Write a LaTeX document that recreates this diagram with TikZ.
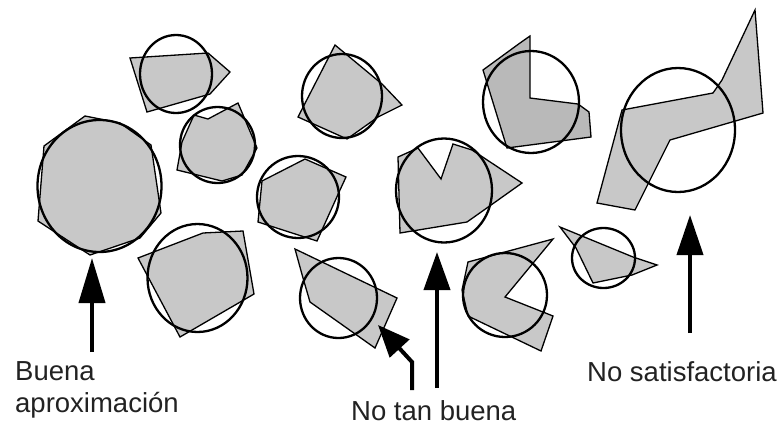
\documentclass[tikz,border=0pt]{standalone}
\usepackage{fontspec}
\setmainfont{Liberation Sans}
\usepackage{xcolor}
\usetikzlibrary{positioning, arrows.meta}
\definecolor{lightgray}{HTML}{C8C8C8}
\definecolor{midgray}{HTML}{B9B9B9}
\definecolor{labelgray}{HTML}{222222}

\tikzset{
  poly/.style={fill=lightgray, draw=black, line width=1.3pt, line join=miter},
  ring/.style={draw=black, line width=2.3pt},
  pointer/.style={line width=4pt, line join=miter, -{Triangle[length=#1, width=26pt]}},
  pointer/.default=40pt,
  caption/.style={font=\fontsize{27.5}{32}\selectfont, text=labelgray,
    align=left, inner sep=0pt}
}

\begin{document}
\begin{tikzpicture}[x=1pt, y=-1pt]
  \useasboundingbox (0,0) rectangle (783,426);

  % polygons first
  \draw[poly] (85,116) -- (120,123) -- (151,145) -- (161,213) -- (140,238)
    -- (90,255) -- (38,221) -- (44,146) -- cycle;
  \draw[poly] (130,58) -- (208,53) -- (230,72) -- (210,94) -- (147,112) -- cycle;
  \draw[poly] (238,103) -- (208,119) -- (194,115) -- (182,142) -- (177,170)
    -- (222,181) -- (242,175) -- (257,148) -- cycle;
  \draw[poly] (258,222) -- (262,181) -- (305,159) -- (346,177) -- (340,190)
    -- (317,241) -- cycle;
  \draw[poly] (335,45) -- (382,84) -- (402,105) -- (378,117) -- (347,139)
    -- (298,117) -- cycle;
  \draw[poly] (398,157) -- (418,148) -- (441,179) -- (453,144) -- (472,150)
    -- (522,183) -- (484,210) -- (467,222) -- (400,233) -- cycle;
  \draw[poly, fill=midgray] (483,70) -- (520,43) -- (530,36) -- (530,98)
    -- (578,104) -- (589,112) -- (591,137) -- (507,148) -- cycle;
  \draw[poly] (755,10) -- (763,113) -- (670,140) -- (635,210) -- (597,203)
    -- (622,110) -- (713,93) -- (722,80) -- cycle;
  \draw[poly] (560,227) -- (633,257) -- (657,265) -- (632,275) -- (593,283)
    -- (576,248) -- cycle;
  \draw[poly] (468,262) -- (553,239) -- (505,297) -- (553,316) -- (541,351)
    -- (468,316) -- (462,290) -- cycle;
  \draw[poly] (295,249) -- (397,298) -- (375,348) -- (310,302) -- (303,278) -- cycle;
  \draw[poly] (138,258) -- (203,233) -- (243,231) -- (254,294) -- (180,337) -- cycle;

  % fitted circles
  \draw[ring] (99.5,186) ellipse [x radius=62pt, y radius=66pt];
  \draw[ring] (176,74) ellipse [x radius=36pt, y radius=39pt];
  \draw[ring] (217.5,145) ellipse [x radius=37.5pt, y radius=38pt];
  \draw[ring] (298,197) ellipse [x radius=41pt, y radius=41pt];
  \draw[ring] (342,96) ellipse [x radius=40pt, y radius=42pt];
  \draw[ring] (444,190.5) ellipse [x radius=48pt, y radius=52pt];
  \draw[ring] (531,102) ellipse [x radius=48pt, y radius=51pt];
  \draw[ring] (678,130) ellipse [x radius=57pt, y radius=62pt];
  \draw[ring] (603.5,258) ellipse [x radius=31.5pt, y radius=30pt];
  \draw[ring] (505,295) ellipse [x radius=42pt, y radius=42pt];
  \draw[ring] (338.5,298) ellipse [x radius=38.5pt, y radius=40pt];
  \draw[ring] (197.5,278) ellipse [x radius=50pt, y radius=54pt];

  % labels
  \node[caption, anchor=north west] (good) at (15,361) {Buena\\aproximación};
  \node[caption, anchor=north west] (fair) at (351,400) {No tan buena};
  \node[caption, anchor=north west] (poor) at (587,361) {No satisfactoria};

  \coordinate (goodtail) at (92,352);
  \coordinate (goodtip) at (92,258);
  \coordinate (fairtail) at (437,388);
  \coordinate (fairtip) at (437,252);
  \coordinate (bendtail) at (412,390);
  \coordinate (bend) at (412,362);
  \coordinate (bendtip) at (378,325);
  \coordinate (poortail) at (690,333);
  \coordinate (poortip) at (690,215);

  \draw[pointer=45pt] (goodtail) -- (goodtip);
  \draw[pointer=38pt] (fairtail) -- (fairtip);
  \draw[pointer=32pt] (bendtail) -- (bend) -- (bendtip);
  \draw[pointer=40pt] (poortail) -- (poortip);
\end{tikzpicture}
\end{document}
